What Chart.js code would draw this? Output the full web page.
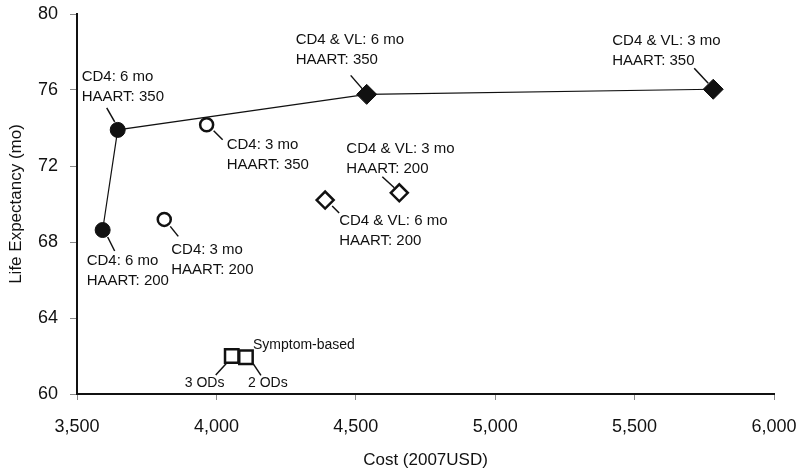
<!DOCTYPE html>
<html>
<head>
<meta charset="utf-8">
<script src="https://cdn.jsdelivr.net/npm/chart.js@4.4.0/dist/chart.umd.min.js"></script>
<style>
  html, body { margin: 0; padding: 0; background: #fff; }
  #wrap { width: 800px; height: 475px; }
</style>
</head>
<body>
<div id="wrap"><canvas id="chart"></canvas></div>
<script>
// CD4 every 6 months (filled circles)
const cd4SixCost = [3592, 3646]
const cd4SixLife = [68.63, 73.9]
const cd4SixLabels = [['CD4: 6 mo', 'HAART: 200'], ['CD4: 6 mo', 'HAART: 350']]

// CD4 every 3 months (open circles)
const cd4ThreeCost = [3813, 3965]
const cd4ThreeLife = [69.19, 74.17]
const cd4ThreeLabels = [['CD4: 3 mo', 'HAART: 200'], ['CD4: 3 mo', 'HAART: 350']]

// CD4 & VL, HAART at 350 (filled diamonds)
const vl350Cost = [4539, 5782]
const vl350Life = [75.77, 76.04]
const vl350Labels = [['CD4 & VL: 6 mo', 'HAART: 350'], ['CD4 & VL: 3 mo', 'HAART: 350']]

// CD4 & VL, HAART at 200 (open diamonds)
const vl200Cost = [4390, 4656]
const vl200Life = [70.21, 70.59]
const vl200Labels = [['CD4 & VL: 6 mo', 'HAART: 200'], ['CD4 & VL: 3 mo', 'HAART: 200']]

// symptom-based monitoring (open squares)
const symptomCost = [4055, 4106]
const symptomLife = [62.0, 61.93]
const symptomLabels = [['3 ODs'], ['2 ODs']]
const symptomTitle = 'Symptom-based'

const xTicks = [3500, 4000, 4500, 5000, 5500, 6000]
const yTicks = [60, 64, 68, 72, 76, 80]

const toPoints = (xs, ys) => xs.map((x, i) => ({ x: x, y: ys[i] }))

// label placement, pixel offsets from the marker
const notePlace = {
    cd4Six: [{ tx: -16, ty: 31, lead: [5, 7, 12, 21] }, { tx: -36, ty: -53, lead: [-11, -22, -3, -8] }],
    cd4Three: [{ tx: 7, ty: 30, lead: [6, 7, 14, 17] }, { tx: 20, ty: 20, lead: [7, 6, 16, 15] }],
    vl350: [{ tx: -71, ty: -55, lead: [-16, -19, -3, -4] }, { tx: -101, ty: -48, lead: [-19, -21, -5, -6] }],
    vl200: [{ tx: 14, ty: 21, lead: [7, 6, 14, 13] }, { tx: -53, ty: -44, lead: [-17, -16, -5, -5] }],
    symptom: [{ tx: -47, ty: 27, lead: [-5, 7, -16, 19], small: true }, { tx: 2, ty: 26, lead: [7, 6, 15, 18], small: true }]
}

const ink = '#111'

const datasets = [
    {
        key: 'cd4Six', labelsText: cd4SixLabels,
        data: toPoints(cd4SixCost, cd4SixLife),
        pointStyle: 'circle', pointRadius: 7.5, backgroundColor: ink, borderColor: ink, borderWidth: 1
    },
    {
        key: 'cd4Three', labelsText: cd4ThreeLabels,
        data: toPoints(cd4ThreeCost, cd4ThreeLife),
        pointStyle: 'circle', pointRadius: 6.5, backgroundColor: '#fff', borderColor: ink, borderWidth: 2.5
    },
    {
        key: 'vl350', labelsText: vl350Labels,
        data: toPoints(vl350Cost, vl350Life),
        pointStyle: 'rectRot', pointRadius: 10, backgroundColor: ink, borderColor: ink, borderWidth: 1
    },
    {
        key: 'vl200', labelsText: vl200Labels,
        data: toPoints(vl200Cost, vl200Life),
        pointStyle: 'rectRot', pointRadius: 8.5, backgroundColor: '#fff', borderColor: ink, borderWidth: 2.5
    },
    {
        key: 'symptom', labelsText: symptomLabels,
        data: toPoints(symptomCost, symptomLife),
        pointStyle: 'rect', pointRadius: 9.5, backgroundColor: '#fff', borderColor: ink, borderWidth: 2.5
    },
    {
        key: 'frontier',
        data: toPoints(cd4SixCost.concat(vl350Cost), cd4SixLife.concat(vl350Life)),
        showLine: true, pointRadius: 0, borderColor: ink, borderWidth: 1.2, order: 1
    }
]

const notesPlugin = {
    id: 'notes',
    beforeDraw(chart) {
        const c = chart.ctx
        c.save()
        c.fillStyle = '#fff'
        c.fillRect(0, 0, chart.width, chart.height)
        c.restore()
    },
    afterDatasetsDraw(chart) {
        const c = chart.ctx
        const xs = chart.scales.x
        const ys = chart.scales.y
        c.save()
        c.fillStyle = ink
        c.strokeStyle = ink
        c.lineWidth = 1.5
        c.textBaseline = 'middle'
        c.textAlign = 'left'
        chart.data.datasets.forEach(ds => {
            const place = notePlace[ds.key]
            if (!place) return
            ds.data.forEach((p, i) => {
                const px = xs.getPixelForValue(p.x)
                const py = ys.getPixelForValue(p.y)
                const n = place[i]
                const l = n.lead
                c.beginPath()
                c.moveTo(px + l[0], py + l[1])
                c.lineTo(px + l[2], py + l[3])
                c.stroke()
                c.font = n.small ? '14px "Liberation Sans", Arial, sans-serif' : '15px "Liberation Sans", Arial, sans-serif'
                ds.labelsText[i].forEach((t, k) => {
                    c.fillText(t, px + n.tx, py + n.ty + k * 20)
                })
            })
            if (ds.key === 'symptom') {
                const p = ds.data[1]
                c.font = '14px "Liberation Sans", Arial, sans-serif'
                c.fillText(symptomTitle, xs.getPixelForValue(p.x) + 7, ys.getPixelForValue(p.y) - 12)
            }
        })
        c.restore()
    }
}

Chart.defaults.font.family = '"Liberation Sans", Arial, sans-serif'
Chart.defaults.color = ink

const ctx = document.getElementById('chart').getContext('2d')
new Chart(ctx, {
    type: 'scatter',
    data: { datasets: datasets },
    plugins: [notesPlugin],
    options: {
        responsive: true,
        maintainAspectRatio: false,
        animation: false,
        events: [],
        layout: { padding: { top: 14, right: 26, bottom: 0, left: 0 } },
        plugins: {
            legend: { display: false },
            tooltip: { enabled: false }
        },
        scales: {
            x: {
                type: 'linear',
                min: xTicks[0],
                max: xTicks[xTicks.length - 1],
                afterBuildTicks: s => { s.ticks = xTicks.map(v => ({ value: v })) },
                afterFit: s => {
                    s.height = 81
                    s.paddingLeft = 0
                    s.paddingRight = 0
                },
                ticks: {
                    font: { size: 18 },
                    padding: 16,
                    maxRotation: 0,
                    callback: v => v.toLocaleString('en-US')
                },
                grid: { drawOnChartArea: false, tickLength: 6, color: '#888' },
                border: { color: ink, width: 2 },
                title: {
                    display: true,
                    text: 'Cost (2007USD)',
                    font: { size: 17 },
                    padding: { top: 0, bottom: 4 }
                }
            },
            y: {
                min: yTicks[0],
                max: yTicks[yTicks.length - 1],
                afterBuildTicks: s => { s.ticks = yTicks.map(v => ({ value: v })) },
                afterFit: s => {
                    s.width = 77
                    s.paddingTop = 0
                    s.paddingBottom = 0
                },
                ticks: { font: { size: 18 }, padding: 12 },
                grid: { drawOnChartArea: false, tickLength: 7, color: '#888' },
                border: { color: ink, width: 2 },
                title: {
                    display: true,
                    text: 'Life Expectancy (mo)',
                    font: { size: 17 },
                    padding: { top: 6, bottom: 0 }
                }
            }
        }
    }
})
</script>
</body>
</html>
